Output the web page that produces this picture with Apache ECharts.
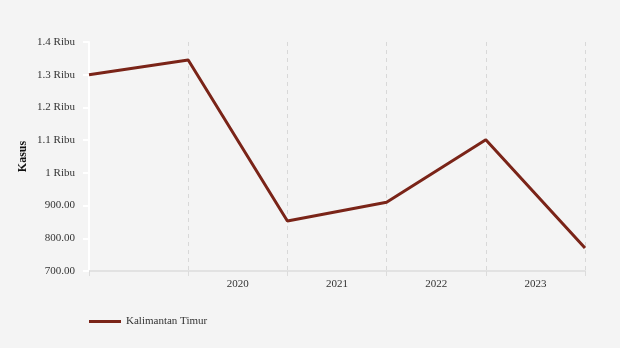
<!DOCTYPE html>
<html>
<head>
<meta charset="utf-8">
<style>
  html, body { margin: 0; padding: 0; background: #f4f4f4; }
  #chart { width: 620px; height: 348px; }
</style>
<script src="https://cdn.jsdelivr.net/npm/echarts@6/dist/echarts.min.js"></script>
</head>
<body>
<div id="chart"></div>
<script>
// Period boundaries (points) and year labels (bands between them)
const pointSlots = ['p0', 'p1', 'p2', 'p3', 'p4', 'p5'];
const yearLabels = ['', '2020', '2021', '2022', '2023'];
const seriesName = 'Kalimantan Timur';
const kasus = [1300, 1345, 853, 910, 1101, 770];
const yMin = 700, yMax = 1400, yStep = 100;

const FONT = '"Liberation Serif", "DejaVu Serif", serif';

function fmtY(v) {
  if (v >= 1000) return (Math.round(v / 100) / 10) + ' Ribu';
  return v.toFixed(2);
}

const chart = echarts.init(document.getElementById('chart'), null, { renderer: 'canvas' });
chart.setOption({
  backgroundColor: '#f4f4f4',
  textStyle: { fontFamily: FONT },
  grid: { left: 89, right: 35, top: 42, bottom: 77, containLabel: false },
  legend: {
    left: 84, top: 311,
    itemWidth: 32, itemHeight: 12,
    textStyle: { fontFamily: FONT, fontSize: 11, color: '#333' },
    data: [{ name: seriesName, icon: 'path://M0,3 L32,3 L32,6 L0,6 Z' }]
  },
  xAxis: [
    {
      type: 'category', data: yearLabels, boundaryGap: true, position: 'bottom',
      axisLine: { show: true, lineStyle: { color: '#e2e2e2', width: 2 } },
      axisTick: { show: true, length: 5, lineStyle: { color: '#dcdcdc' } },
      axisLabel: { fontFamily: FONT, fontSize: 11, color: '#333', margin: 8 },
      splitLine: { show: true, lineStyle: { color: '#d8d8d8', type: [4, 4], width: 1 } }
    },
    {
      type: 'category', data: pointSlots, boundaryGap: false, show: false
    }
  ],
  yAxis: {
    type: 'value', min: yMin, max: yMax, interval: yStep,
    name: 'Kasus', nameLocation: 'middle', nameGap: 60, nameRotate: 90,
    nameMoveOverlap: false,
    nameTextStyle: { fontFamily: FONT, fontSize: 12, fontWeight: 'bold', color: '#111' },
    axisLine: { show: true, lineStyle: { color: '#ffffff', width: 2 } },
    axisTick: { show: true, length: 6, lineStyle: { color: '#ffffff', width: 2 } },
    axisLabel: { fontFamily: FONT, fontSize: 11, color: '#333', margin: 14, formatter: fmtY },
    splitLine: { show: false }
  },
  series: [{
    name: seriesName, type: 'line', xAxisIndex: 1,
    data: kasus, symbol: 'none', smooth: false,
    lineStyle: { color: '#7a2418', width: 3 },
    itemStyle: { color: '#7a2418' }
  }]
});
</script>
</body>
</html>
